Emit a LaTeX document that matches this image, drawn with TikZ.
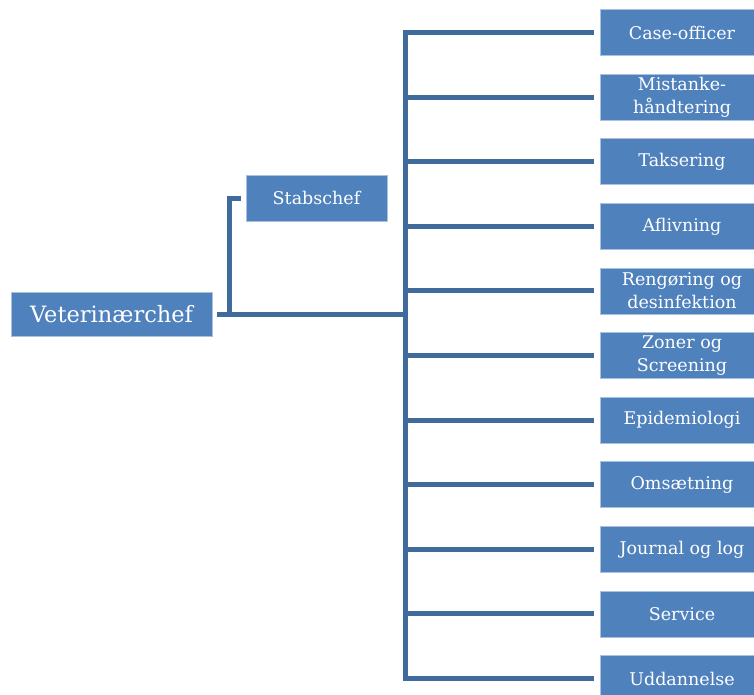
\documentclass[tikz,border=0pt]{standalone}
\usepackage{fontspec}
\setmainfont{DejaVu Serif}
\definecolor{boxblue}{HTML}{4F81BD}
\definecolor{linkblue}{HTML}{3F6A9C}
\definecolor{edgeblue}{HTML}{A9C1DF}
\begin{document}
\begin{tikzpicture}[x=1pt,y=-1pt,
  unit/.style={rectangle, fill=boxblue, draw=edgeblue, line width=0.8pt, text=white,
    align=center, inner sep=0pt, minimum width=164pt, minimum height=46pt,
    font=\fontsize{17.5}{22.5}\selectfont},
  conn/.style={draw=linkblue, line width=5pt, line join=miter}]
\useasboundingbox (0,0) rectangle (754,695);
\clip (0,0) rectangle (754,695);
\fill[white] (0,0) rectangle (754,695);
\node[unit, minimum width=201pt, minimum height=44pt, font=\fontsize{22.5}{27}\selectfont] (vet) at (111.5,314) {Veterinærchef};
\node[unit, minimum width=141pt, minimum height=46pt] (stab) at (316.5,198) {Stabschef};
\node[unit] (b1) at (682,32.5) {Case-officer};
\node[unit] (b2) at (682,97.1) {Mistanke-\\håndtering};
\node[unit] (b3) at (682,161.7) {Taksering};
\node[unit] (b4) at (682,226.3) {Aflivning};
\node[unit] (b5) at (682,290.9) {Rengøring og\\desinfektion};
\node[unit] (b6) at (682,355.5) {Zoner og\\Screening};
\node[unit] (b7) at (682,420.1) {Epidemiologi};
\node[unit] (b8) at (682,484.7) {Omsætning};
\node[unit] (b9) at (682,549.3) {Journal og log};
\node[unit] (b10) at (682,613.9) {Service};
\node[unit] (b11) at (682,678.5) {Uddannelse};
\coordinate (tr) at (405.5,314);
\coordinate (sj) at (229,314);
\draw[conn] ([xshift=-6pt]b1.west) -- (b1.west -| tr) -- (b11.west -| tr) -- ([xshift=-6pt]b11.west);
\foreach \i in {2,...,10} {
  \draw[conn] (b\i.west -| tr) -- ([xshift=-6pt]b\i.west);
}
\draw[conn] ([xshift=5pt]vet.east) -- (tr);
\draw[conn] (sj) |- ([xshift=-5pt]stab.west);
\end{tikzpicture}
\end{document}
